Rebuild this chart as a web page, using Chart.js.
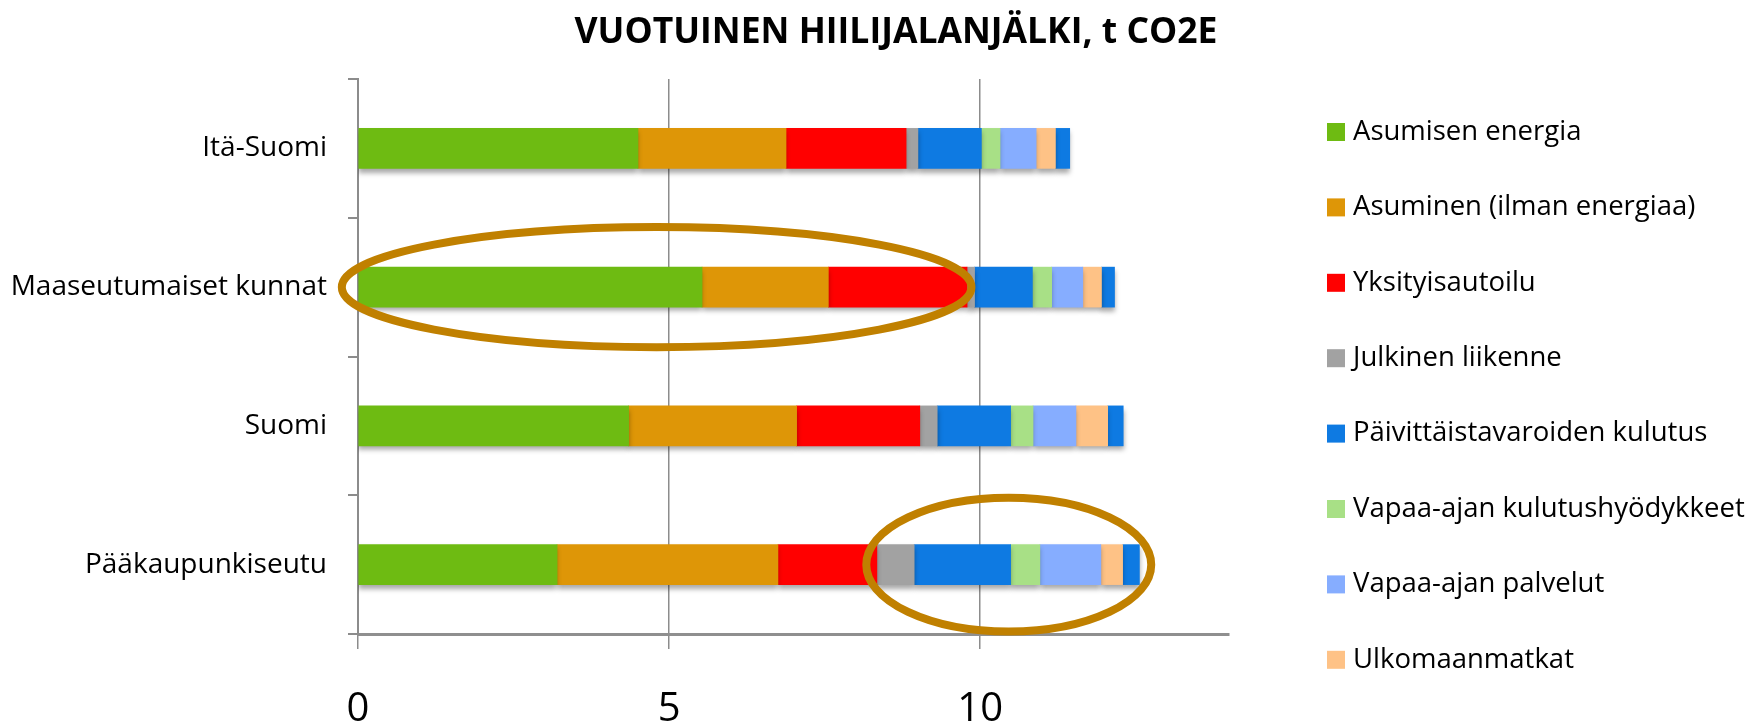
<!DOCTYPE html>
<html><head><meta charset="utf-8">
<script src="https://cdn.jsdelivr.net/npm/chart.js@4.4.1/dist/chart.umd.min.js"></script>
<style>html,body{margin:0;padding:0;background:#fff;}</style>
</head><body>
<canvas id="c" width="1760" height="728"></canvas>
<script>
const chartTitle = 'VUOTUINEN HIILIJALANJÄLKI, t CO2E';
const categories = ['Itä-Suomi', 'Maaseutumaiset kunnat', 'Suomi', 'Pääkaupunkiseutu'];
const xTickValues = [0, 5, 10];
const xMax = 14;

const seriesNames = [
  'Asumisen energia',
  'Asuminen (ilman energiaa)',
  'Yksityisautoilu',
  'Julkinen liikenne',
  'Päivittäistavaroiden kulutus',
  'Vapaa-ajan kulutushyödykkeet',
  'Vapaa-ajan palvelut',
  'Ulkomaanmatkat',
  'Muut'
];
const asumisenEnergia      = [4.50, 5.53, 4.35, 3.20];
const asuminenIlmanEnergia = [2.38, 2.03, 2.70, 3.55];
const yksityisautoilu      = [1.93, 2.23, 1.98, 1.59];
const julkinenLiikenne     = [0.19, 0.12, 0.28, 0.60];
const paivittaistavarat    = [1.02, 0.93, 1.18, 1.55];
const vapaaAjanHyodykkeet  = [0.30, 0.31, 0.36, 0.47];
const vapaaAjanPalvelut    = [0.58, 0.50, 0.69, 0.98];
const ulkomaanmatkat       = [0.31, 0.30, 0.51, 0.35];
const muut                 = [0.23, 0.21, 0.25, 0.27];
const legendCount = 8;

const seriesValues = [asumisenEnergia, asuminenIlmanEnergia, yksityisautoilu, julkinenLiikenne,
  paivittaistavarat, vapaaAjanHyodykkeet, vapaaAjanPalvelut, ulkomaanmatkat, muut];
const seriesColors = ['#6EBB12', '#DE9607', '#FF0000', '#A2A2A2', '#0E7AE2',
  '#A8E086', '#86ADFF', '#FEC286', '#0E7AE2'];

// highlight ellipses (annotations): data-space extents
const highlights = [
  { category: 'Maaseutumaiset kunnat', from: -0.26, to: 9.86, span: 0.865 },
  { category: 'Pääkaupunkiseutu', from: 8.17, to: 12.75, span: 0.965 }
];

const FONT = '"Open Sans", "DejaVu Sans", sans-serif';
const GRID = '#8C8C8C';

const shadowPlugin = {
  id: 'barShadow',
  beforeDatasetsDraw(chart) {
    const ctx = chart.ctx;
    ctx.save();
    ctx.shadowColor = 'rgba(0,0,0,0.35)';
    ctx.shadowBlur = 5;
    ctx.shadowOffsetX = 0;
    ctx.shadowOffsetY = 4;
  },
  afterDatasetsDraw(chart) { chart.ctx.restore(); }
};

const overlayPlugin = {
  id: 'overlay',
  afterDraw(chart) {
    const ctx = chart.ctx;
    const xs = chart.scales.x, ys = chart.scales.y;
    ctx.save();
    ctx.strokeStyle = '#C08000';
    ctx.lineWidth = 8;
    const catH = ys.getPixelForValue(1) - ys.getPixelForValue(0);
    highlights.forEach(h => {
      const idx = categories.indexOf(h.category);
      const x1 = xs.getPixelForValue(h.from), x2 = xs.getPixelForValue(h.to);
      const cy = ys.getPixelForValue(idx);
      ctx.beginPath();
      ctx.ellipse((x1 + x2) / 2, cy, (x2 - x1) / 2, catH * h.span / 2, 0, 0, Math.PI * 2);
      ctx.stroke();
    });
    ctx.restore();
    // title
    ctx.save();
    ctx.fillStyle = '#000';
    ctx.font = 'bold 35.5px ' + FONT;
    ctx.textAlign = 'center';
    ctx.textBaseline = 'middle';
    ctx.fillText(chartTitle, 896, 33);
    ctx.restore();
    // legend
    ctx.save();
    ctx.font = '27.5px ' + FONT;
    ctx.textBaseline = 'middle';
    ctx.textAlign = 'left';
    for (let i = 0; i < legendCount; i++) {
      const cy = 132 + i * 75.4;
      ctx.fillStyle = seriesColors[i];
      ctx.fillRect(1327, cy - 9, 18, 18);
      ctx.fillStyle = '#000';
      ctx.fillText(seriesNames[i], 1353, cy);
    }
    ctx.restore();
  }
};

new Chart(document.getElementById('c'), {
  type: 'bar',
  data: {
    labels: categories,
    datasets: seriesValues.map((vals, i) => ({
      label: seriesNames[i],
      data: vals,
      backgroundColor: seriesColors[i],
      borderWidth: 0,
      barThickness: 40
    }))
  },
  options: {
    indexAxis: 'y',
    responsive: false,
    animation: false,
    layout: { padding: { left: 0, right: 531, top: 79, bottom: 0 } },
    plugins: { legend: { display: false }, title: { display: false }, tooltip: { enabled: false } },
    scales: {
      x: {
        stacked: true,
        min: 0, max: xMax,
        afterBuildTicks(scale) { scale.ticks = xTickValues.map(v => ({ value: v })); },
        afterFit(scale) { scale.height = 94; },
        grid: { color: GRID, lineWidth: 1.5, drawTicks: true, tickLength: 15, tickColor: GRID, tickWidth: 1.5 },
        border: { display: true, color: '#8F8F8F', width: 3 },
        ticks: { color: '#000', font: { family: FONT, size: 40 }, padding: 37 }
      },
      y: {
        stacked: true,
        afterFit(scale) { scale.width = 358; },
        grid: { drawOnChartArea: false, drawTicks: true, tickLength: 10, color: GRID, lineWidth: 2, offset: true },
        border: { display: true, color: GRID, width: 2 },
        ticks: { color: '#000', font: { family: FONT, size: 28 }, padding: 21 }
      }
    }
  },
  plugins: [shadowPlugin, overlayPlugin]
});
</script>
</body></html>
